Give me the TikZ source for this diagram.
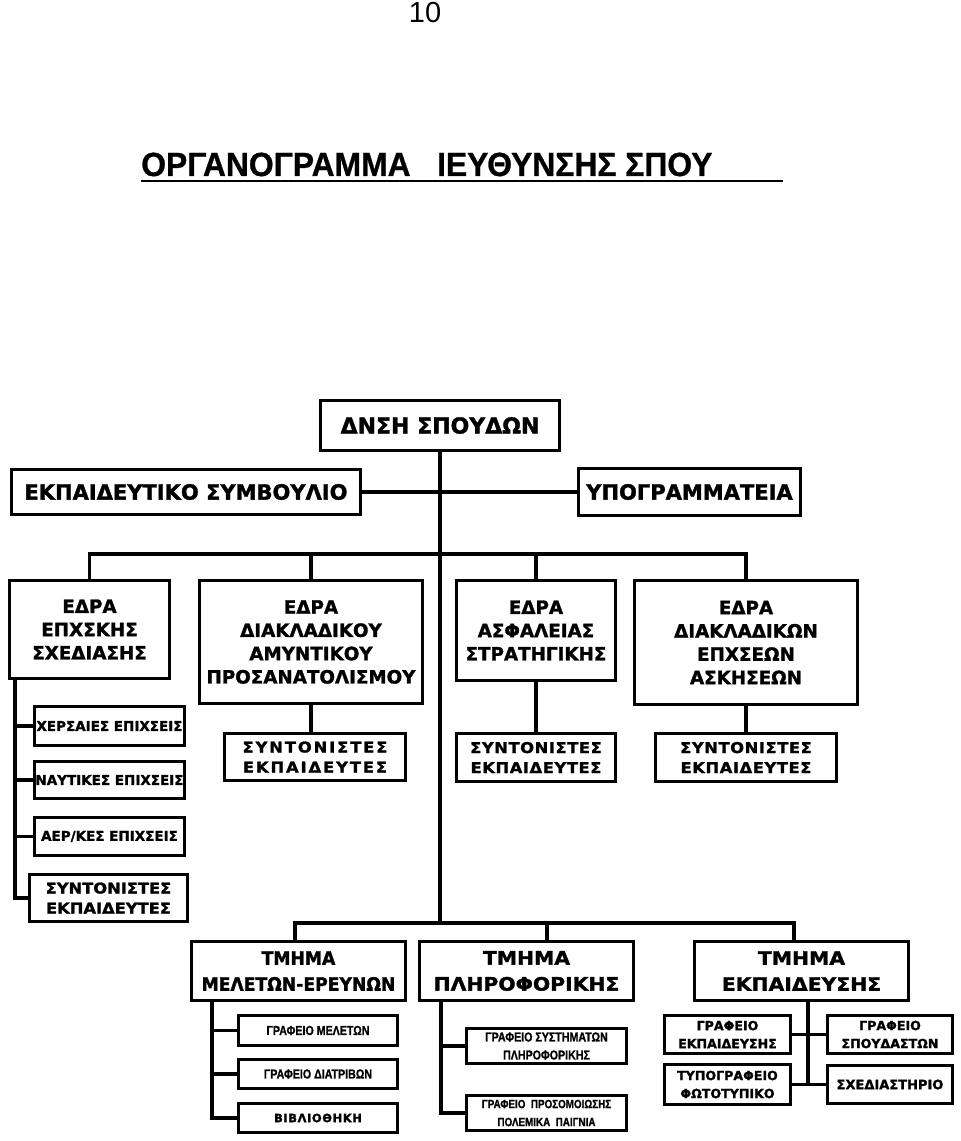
\documentclass[tikz,border=0pt]{standalone}
\usepackage{fontspec}
\setmainfont{DejaVu Sans}[BoldFeatures={FakeBold=1.5}]
\newfontfamily\widefont{DejaVu Sans}[FakeStretch=1.1, BoldFeatures={FakeBold=1.6}]
\newfontfamily\tightfont{DejaVu Sans}[FakeStretch=0.93, BoldFeatures={FakeBold=1.5}]
\newfontfamily\narrowfont{Liberation Sans}[FakeStretch=0.82, BoldFeatures={FakeBold=1}]
\newfontfamily\titlefont{Liberation Sans}[FakeStretch=0.95, BoldFeatures={FakeBold=0.8}]
\newfontfamily\pagefont{Liberation Sans}
\usetikzlibrary{positioning}

\newcommand\pxsize[2]{\fontsize{\fpeval{#1*0.75}pt}{\fpeval{#2*0.75}pt}\selectfont}
\newcommand\spaced[1]{\addfontfeatures{LetterSpace=#1}}

\tikzset{
    box/.style={draw, line width=2.6pt, inner sep=0pt, align=center, font=\bfseries},
    wh/.style 2 args={minimum width={(#1-3.5)*0.75pt}, minimum height={(#2-3.5)*0.75pt}},
    head/.style={box, font=\bfseries\pxsize{21}{25}},
    seat/.style={box, font=\bfseries\pxsize{18.3}{23.3}},
    coordbox/.style={box, font=\widefont\bfseries\pxsize{14.8}{20}\spaced{#1}},
    ops/.style={box, font=\bfseries\pxsize{13.5}{16}},
    dept/.style={box, font=\widefont\bfseries\pxsize{18.5}{26}},
    office/.style={box, font=\narrowfont\bfseries\pxsize{13}{18}},
    bureau/.style={box, font=\bfseries\pxsize{12.6}{18}},
    link/.style={line width=2.6pt},
}

\begin{document}
\begin{tikzpicture}[x=0.75pt, y=-0.75pt]
    \useasboundingbox (0,0) rectangle (960,1141);

    % Page number and title
    \node[font=\pagefont\pxsize{29}{32}, anchor=base, inner sep=0pt] (pageno) at (425,23) {10};
    \node[font=\titlefont\bfseries\pxsize{33.5}{36}, anchor=base west, inner sep=0pt] (title) at (141,176)
        {ΟΡΓΑΝΟΓΡΑΜΜΑ\ \ \ ΙΕΥΘΥΝΣΗΣ ΣΠΟΥ};
    \draw[line width=1.8pt] ([yshift=-3.8pt]title.base west) -- ++(642,0);

    % Direction
    \node[head, wh={242}{53}, font=\bfseries\pxsize{22}{26}] (dnsh) at (440,425.5) {ΔΝΣΗ ΣΠΟΥΔΩΝ};
    \node[head, wh={352}{48}] (council) at (186,492) {ΕΚΠΑΙΔΕΥΤΙΚΟ ΣΥΜΒΟΥΛΙΟ};
    \node[head, wh={225}{51}] (secretariat) at (689.5,492) {ΥΠΟΓΡΑΜΜΑΤΕΙΑ};

    % Seats
    \node[seat, wh={163}{101}] (seatA) at (89.5,629.5) {ΕΔΡΑ\\ΕΠΧΣΚΗΣ\\ΣΧΕΔΙΑΣΗΣ};
    \node[seat, wh={226}{126}] (seatB) at (311,642) {ΕΔΡΑ\\ΔΙΑΚΛΑΔΙΚΟΥ\\ΑΜΥΝΤΙΚΟΥ\\ΠΡΟΣΑΝΑΤΟΛΙΣΜΟΥ};
    \node[seat, wh={162}{103}] (seatC) at (536,630.5) {ΕΔΡΑ\\ΑΣΦΑΛΕΙΑΣ\\ΣΤΡΑΤΗΓΙΚΗΣ};
    \node[seat, wh={226}{127}] (seatD) at (746,642.5) {ΕΔΡΑ\\ΔΙΑΚΛΑΔΙΚΩΝ\\ΕΠΧΣΕΩΝ\\ΑΣΚΗΣΕΩΝ};

    % Operations column
    \node[ops, wh={153}{42}] (land) at (109.5,726) {ΧΕΡΣΑΙΕΣ ΕΠΙΧΣΕΙΣ};
    \node[ops, wh={153}{40}] (naval) at (109.5,780) {ΝΑΥΤΙΚΕΣ ΕΠΙΧΣΕΙΣ};
    \node[ops, wh={153}{41}] (air) at (109.5,836.5) {ΑΕΡ/ΚΕΣ ΕΠΙΧΣΕΙΣ};

    % Coordinators
    \node[coordbox=0, wh={161}{50}] (coordA) at (108.5,898) {ΣΥΝΤΟΝΙΣΤΕΣ\\ΕΚΠΑΙΔΕΥΤΕΣ};
    \node[coordbox=13, wh={184}{50}] (coordB) at (315,757) {ΣΥΝΤΟΝΙΣΤΕΣ\\ΕΚΠΑΙΔΕΥΤΕΣ};
    \node[coordbox=4, wh={162}{51}] (coordC) at (536,757.5) {ΣΥΝΤΟΝΙΣΤΕΣ\\ΕΚΠΑΙΔΕΥΤΕΣ};
    \node[coordbox=4, wh={184}{51}] (coordD) at (746,757.5) {ΣΥΝΤΟΝΙΣΤΕΣ\\ΕΚΠΑΙΔΕΥΤΕΣ};

    % Departments
    \node[dept, wh={217}{62}, font=\tightfont\bfseries\pxsize{18.5}{26}] (deptA) at (298.5,971) {ΤΜΗΜΑ\\ΜΕΛΕΤΩΝ-ΕΡΕΥΝΩΝ};
    \node[dept, wh={217}{62}] (deptB) at (526.5,971) {ΤΜΗΜΑ\\ΠΛΗΡΟΦΟΡΙΚΗΣ};
    \node[dept, wh={217}{62}] (deptC) at (801.5,971) {ΤΜΗΜΑ\\ΕΚΠΑΙΔΕΥΣΗΣ};

    % Offices
    \node[office, wh={162}{33}] (studies) at (318,1030.5) {ΓΡΑΦΕΙΟ ΜΕΛΕΤΩΝ};
    \node[office, wh={162}{32}] (theses) at (318,1074) {ΓΡΑΦΕΙΟ ΔΙΑΤΡΙΒΩΝ};
    \node[bureau, wh={162}{32}, font=\bfseries\pxsize{11.5}{14}\spaced{5}] (library) at (318,1118) {ΒΙΒΛΙΟΘΗΚΗ};
    \node[office, wh={163}{38}] (systems) at (546.5,1046) {ΓΡΑΦΕΙΟ ΣΥΣΤΗΜΑΤΩΝ\\ΠΛΗΡΟΦΟΡΙΚΗΣ};
    \node[office, wh={163}{38}, font=\narrowfont\bfseries\pxsize{12}{18}] (simulation) at (546.5,1113)
        {ΓΡΑΦΕΙΟ\ \ ΠΡΟΣΟΜΟΙΩΣΗΣ\\ΠΟΛΕΜΙΚΑ\ \ ΠΑΙΓΝΙΑ};
    \node[bureau, wh={129}{41}] (training) at (727.5,1034.5) {ΓΡΑΦΕΙΟ\\ΕΚΠΑΙΔΕΥΣΗΣ};
    \node[bureau, wh={128}{41}] (cadets) at (890,1034.5) {ΓΡΑΦΕΙΟ\\ΣΠΟΥΔΑΣΤΩΝ};
    \node[bureau, wh={129}{43}] (print) at (727.5,1084.5) {ΤΥΠΟΓΡΑΦΕΙΟ\\ΦΩΤΟΤΥΠΙΚΟ};
    \node[bureau, wh={128}{42}, font=\bfseries\pxsize{13}{18}] (drawing) at (890,1084.5) {ΣΧΕΔΙΑΣΤΗΡΙΟ};

    % Main links
    \coordinate (hub) at (440,923);
    \coordinate (bus) at (440,554);
    \draw[link] (dnsh.south) -- (hub);
    \draw[link] (council.east) -- (secretariat.west);
    \draw[link] (seatA.north) |- (bus) -| (seatD.north);
    \draw[link] (seatB.north) -- (seatB.north |- bus);
    \draw[link] (seatC.north) -- (seatC.north |- bus);

    % Seats to coordinators
    \foreach \s in {B,C,D}
        \draw[link] (seat\s.south) -- (seat\s.south |- coord\s.north);
    \coordinate (rail) at (15,680);
    \foreach \n in {land,naval,air,coordA}
        \draw[link] (rail) |- (\n.west);

    % Departments
    \coordinate (dropA) at (295,923);
    \coordinate (dropB) at (547,923);
    \coordinate (dropC) at (794,923);
    \draw[link] (dropA |- deptA.north) -- (dropA) -- (dropC) -- (dropC |- deptC.north);
    \draw[link] (dropB) -- (dropB |- deptB.north);

    % Offices
    \coordinate (railA) at (212,1002);
    \foreach \n in {studies,theses,library}
        \draw[link] (railA) |- (\n.west);
    \coordinate (railB) at (441,1002);
    \foreach \n in {systems,simulation}
        \draw[link] (railB) |- (\n.west);
    \coordinate (railC) at (808,1002);
    \draw[link] (railC) -- (railC |- print.east);
    \draw[link] (training.east) -- (cadets.west);
    \draw[link] (print.east) -- (drawing.west);
\end{tikzpicture}
\end{document}
